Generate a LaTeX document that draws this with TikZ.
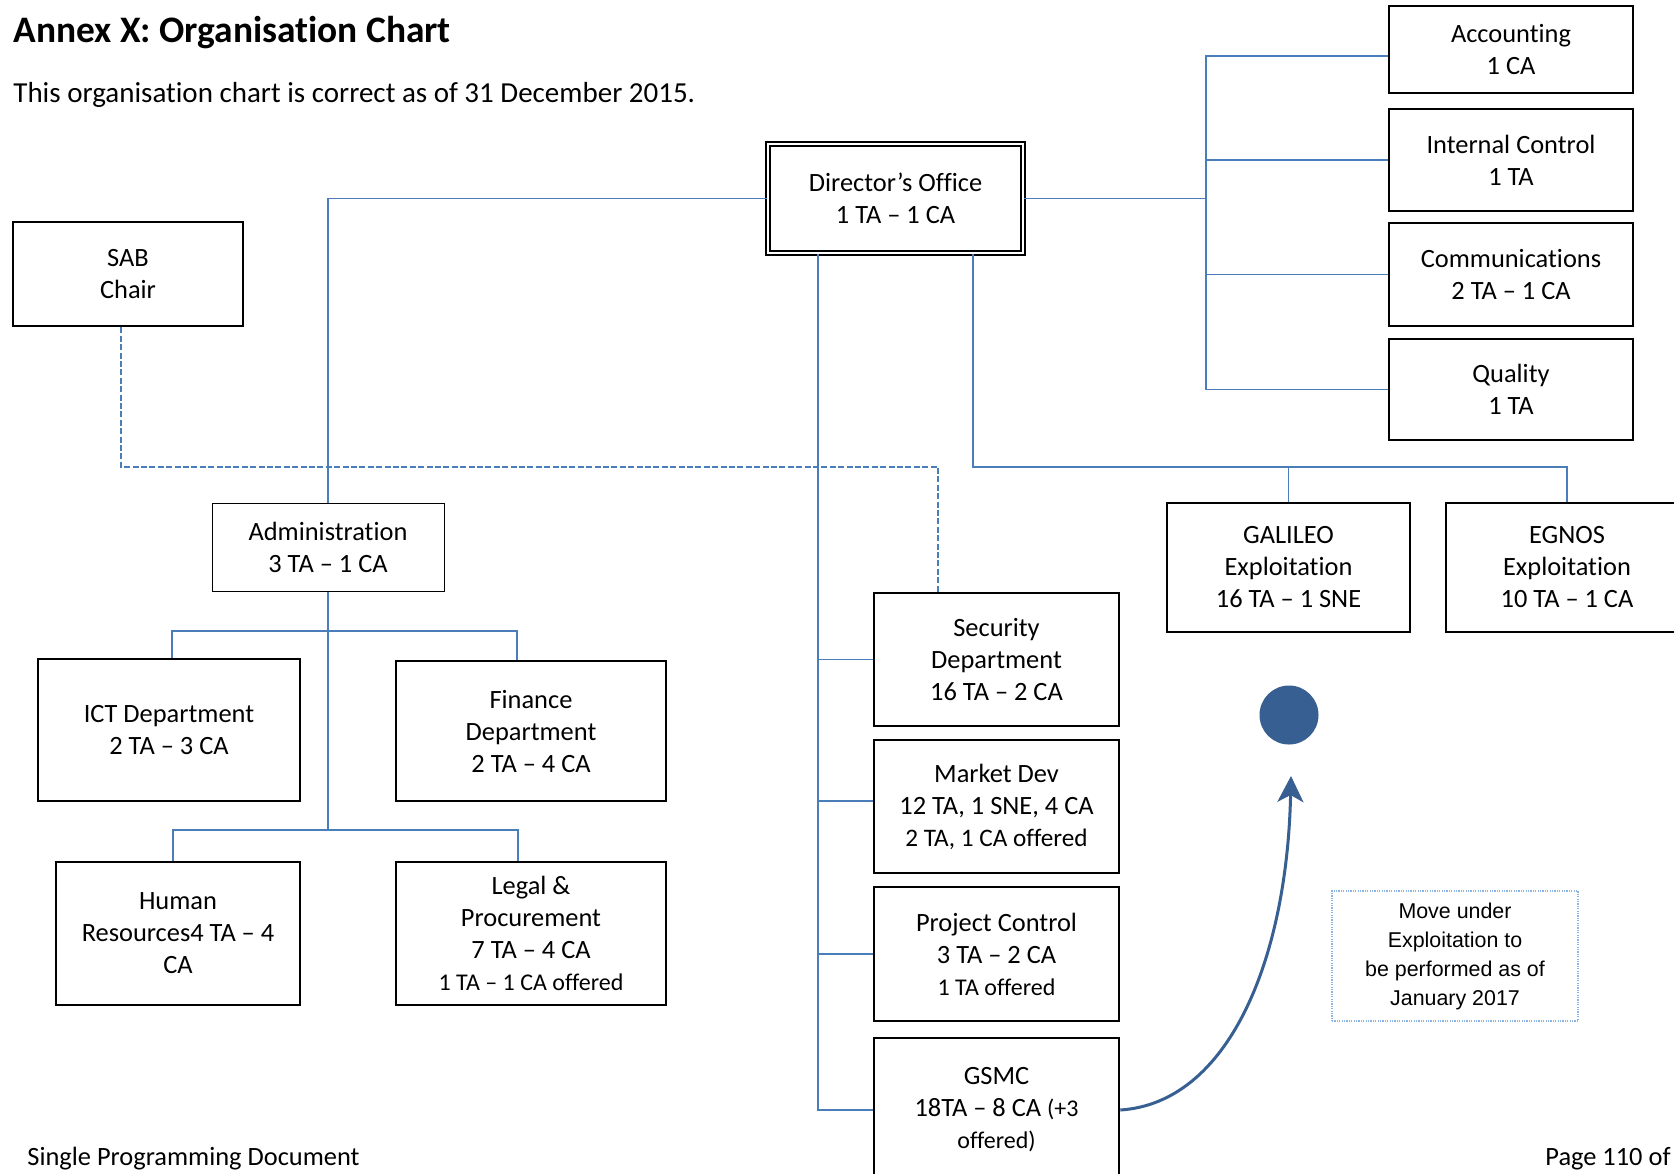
\documentclass[tikz,border=0pt]{standalone}
\usepackage{fontspec}
\setmainfont[Ligatures={TeX,NoCommon}]{Carlito}
\newfontfamily\arialf{Liberation Sans}
\usetikzlibrary{arrows.meta,calc,shapes.geometric}
\definecolor{linkblue}{HTML}{4A7EBB}
\definecolor{darkblue}{HTML}{375F92}
\definecolor{noteblue}{HTML}{8DB3E2}
\newcommand\bxf{\fontsize{13.2pt}{16pt}\selectfont}
\newcommand\smf{\fontsize{12pt}{16pt}\selectfont}
\newcommand\mdf{\fontsize{12.6pt}{16pt}\selectfont}
\begin{document}
\begin{tikzpicture}[x=0.5pt,y=-0.5pt,
  box/.style={draw=black, line width=1.3pt, align=center, font=\bxf, inner sep=0pt},
  conn/.style={draw=linkblue, line width=0.9pt},
  dashconn/.style={draw=linkblue, line width=0.9pt, dash pattern=on 3pt off 1.2pt},
  plain/.style={inner sep=0pt, font=\bxf}]
\fill[white] (0,0) rectangle (1674,1173);
\useasboundingbox (0,0) rectangle (1674,1173);
\clip (0,0) rectangle (1674,1173);

% texts
\node[plain, anchor=west, font=\bfseries\fontsize{18.7pt}{22pt}\selectfont] (title) at (13,33) {Annex X: Organisation Chart};
\node[plain, anchor=west, font=\fontsize{14.5pt}{17pt}\selectfont] (sub) at (13,95) {This organisation chart is correct as of 31 December 2015.};
\node[plain, anchor=base west] (foot) at (27,1165) {Single Programming Document};
\node[plain, anchor=base west] (page) at (1545,1165) {Page 110 of};

% boxes
\node[box, line width=0.9pt, double, double distance=1pt, minimum width=127.7pt, minimum height=54.7pt] (dir) at (895.5,198.5) {Director’s Office\\1 TA – 1 CA};
\node[box, minimum width=115pt, minimum height=52pt] (sab) at (128,274) {SAB\\Chair};
\node[box, minimum width=122pt, minimum height=43.5pt] (acc) at (1511,49.5) {Accounting\\1 CA};
\node[box, minimum width=122pt, minimum height=51pt] (ic) at (1511,160) {Internal Control\\1 TA};
\node[box, minimum width=122pt, minimum height=51.5pt] (com) at (1511,274.5) {Communications\\2 TA – 1 CA};
\node[box, minimum width=122pt, minimum height=50.5pt] (qual) at (1511,389.5) {Quality\\1 TA};
\node[box, line width=0.5pt, minimum width=116pt, minimum height=44pt] (adm) at (328,547) {Administration\\3 TA – 1 CA};
\node[box, minimum width=131pt, minimum height=71pt] (ict) at (169,730) {ICT Department\\2 TA – 3 CA};
\node[box, minimum width=135pt, minimum height=70pt] (fin) at (531,731) {Finance\\Department\\2 TA – 4 CA};
\node[box, minimum width=122pt, minimum height=71.5pt] (hr) at (178,933.5) {Human\\Resources4 TA – 4\\CA};
\node[box, minimum width=135pt, minimum height=71.5pt] (leg) at (531,933.5) {Legal \&\\Procurement\\7 TA – 4 CA\\{\smf 1 TA – 1 CA offered}};
\node[box, minimum width=122.5pt, minimum height=66.5pt] (sec) at (996.5,659.5) {Security\\Department\\16 TA – 2 CA};
\node[box, minimum width=122.5pt, minimum height=66.5pt] (mkt) at (996.5,806.5) {Market Dev\\12 TA, 1 SNE, 4 CA\\{\mdf 2 TA, 1 CA offered}};
\node[box, minimum width=122.5pt, minimum height=67pt] (pc) at (996.5,954) {Project Control\\3 TA – 2 CA\\{\smf 1 TA offered}};
\node[box, minimum width=122.5pt, minimum height=72pt] (gsmc) at (996.5,1110) {GSMC\\18TA – 8 CA {\smf(+3}\\{\smf offered)}};
\node[box, minimum width=121.5pt, minimum height=64.5pt] (gal) at (1288.5,567.5) {GALILEO\\Exploitation\\16 TA – 1 SNE};
\node[box, minimum width=121pt, minimum height=64.5pt] (egn) at (1567,567.5) {EGNOS\\Exploitation\\10 TA – 1 CA};
\node[draw=noteblue, line width=0.6pt, dash pattern=on 0.6pt off 0.6pt, align=center, inner sep=0pt,
      minimum width=123pt, minimum height=65pt, font=\arialf\fontsize{10.7pt}{14.5pt}\selectfont] (note) at (1455,956)
      {Move under\\Exploitation to\\be performed as of\\January 2017};
\node[circle, fill=darkblue, minimum size=29.5pt, inner sep=0pt] (circ) at (1289,715) {};

% coordinates
\coordinate (lv) at ([xshift=-38.75pt]dir.south);
\coordinate (rv) at ([xshift=38.75pt]dir.south);
\coordinate (bus) at (1000,467);
\coordinate (rb) at (1206,300);
\coordinate (acw) at ([yshift=-3.25pt]acc.west);
\coordinate (mkw) at ([yshift=2.75pt]mkt.west);
\coordinate (b1) at (0,631);
\coordinate (b2) at (0,830);
\coordinate (ictt) at ([xshift=1.5pt]ict.north);
\coordinate (fint) at ([xshift=-7pt]fin.north);
\coordinate (hrt) at ([xshift=-2.5pt]hr.north);
\coordinate (legt) at ([xshift=-6.5pt]leg.north);
\coordinate (sabb) at ([xshift=-3.5pt]sab.south);
\coordinate (sect) at ([xshift=-29.25pt]sec.north);
\coordinate (tip) at (1291,776);

% connectors
\draw[conn] (dir.west) -| (adm.north);
\draw[conn] (dir.east) -- (dir.east -| rb);
\draw[conn] (acw) -- (acw -| rb) -- (rb |- qual.west) -- (qual.west);
\draw[conn] (rb |- ic.west) -- (ic.west);
\draw[conn] (rb |- com.west) -- (com.west);
\draw[conn] (lv) -- (lv |- gsmc.west) -- (gsmc.west);
\draw[conn] (lv |- sec.west) -- (sec.west);
\draw[conn] (lv |- mkw) -- (mkw);
\draw[conn] (lv |- pc.west) -- (pc.west);
\draw[conn] (rv) -- (rv |- bus) -- (egn.north |- bus) -- (egn.north);
\draw[conn] (gal.north |- bus) -- (gal.north);
\draw[conn] (adm.south) -- (adm.south |- b2);
\draw[conn] (ictt) -- (ictt |- b1) -- (fint |- b1) -- (fint);
\draw[conn] (hrt) -- (hrt |- b2) -- (legt |- b2) -- (legt);
\draw[dashconn] (sabb) -- (sabb |- bus) -- (sect |- bus) -- (sect);
\draw[draw=darkblue, line width=1.5pt, -{Stealth[length=13pt,width=13pt,inset=3.5pt]}]
  (gsmc.east) .. controls (1228,1103) and (1287,961) .. (tip);
\end{tikzpicture}
\end{document}
